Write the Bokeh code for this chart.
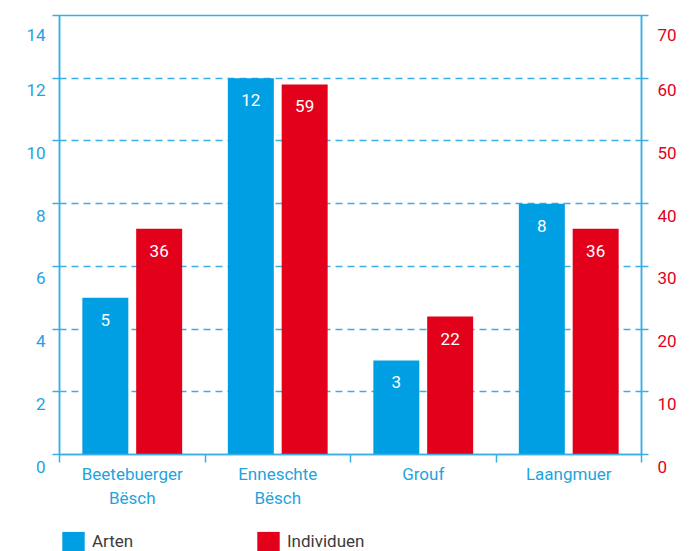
from bokeh.plotting import figure
from bokeh.layouts import column
from bokeh.models import Range1d, LinearAxis, FixedTicker, ColumnDataSource, Legend, LegendItem
from bokeh.transform import dodge
from bokeh.core.properties import value
from bokeh.embed import file_html
from bokeh.resources import INLINE

# ---- data ----
categories = ["Beetebuerger Bësch", "Enneschte Bësch", "Grouf", "Laangmuer"]
category_labels = ["Beetebuerger\nBësch", "Enneschte\nBësch", "Grouf", "Laangmuer"]
series_names = ["Arten", "Individuen"]
arten = [5, 12, 3, 8]
individuen = [36, 59, 22, 36]
left_ticks = [0, 2, 4, 6, 8, 10, 12, 14]
right_ticks = [0, 10, 20, 30, 40, 50, 60, 70]

# ---- style ----
FONT = "Roboto"
BLUE = "#009FE3"
RED = "#E2001A"
LINE = "#3AAEE5"
LBLUE = "#1FA3DE"
DARK = "#3C3C3B"
FS = "17px"

n = len(categories)
centers = [i + 0.5 for i in range(n)]
bounds = [float(i) for i in range(n + 1)]

src = ColumnDataSource(dict(
    x=centers,
    arten=arten,
    individuen=individuen,
    arten_txt=[str(v) for v in arten],
    ind_txt=[str(v) for v in individuen],
))

p = figure(width=694, height=520, x_range=Range1d(0, n), y_range=Range1d(left_ticks[0], left_ticks[-1]),
           output_backend="svg", toolbar_location=None,
           min_border_left=59, min_border_right=53, min_border_top=15, min_border_bottom=66)
p.extra_y_ranges = {"ind": Range1d(right_ticks[0], right_ticks[-1])}

p.outline_line_color = LINE
p.outline_line_width = 1.5
p.outline_line_alpha = 1
p.xgrid.visible = False
p.ygrid.ticker = FixedTicker(ticks=left_ticks[1:-1])
p.ygrid.grid_line_color = LINE
p.ygrid.grid_line_dash = "7 5"
p.ygrid.grid_line_width = 1.3

# bottom axis: labels at centres, ticks at group boundaries
xa = p.xaxis[0]
xa.ticker = FixedTicker(ticks=centers, minor_ticks=bounds)
xa.major_label_overrides = {c: l for c, l in zip(centers, category_labels)}
xa.major_tick_out = 0
xa.major_tick_in = 0
xa.minor_tick_out = 8
xa.minor_tick_in = 0
xa.minor_tick_line_color = LINE
xa.minor_tick_line_width = 1.5
xa.axis_line_color = LINE
xa.axis_line_width = 1.5
xa.major_label_standoff = 1
xa.major_label_text_color = LBLUE
xa.major_label_text_font = FONT
xa.major_label_text_font_size = FS

# left axis (labels sit just below their lines)
ya = p.yaxis[0]
ya.ticker = FixedTicker(ticks=left_ticks)
ya.major_label_overrides = {t: "\n" + str(t) for t in left_ticks}
ya.major_tick_out = 7
ya.major_tick_in = 0
ya.major_tick_line_color = LINE
ya.major_tick_line_width = 1.3
ya.minor_tick_line_color = None
ya.axis_line_color = LINE
ya.axis_line_width = 1.5
ya.major_label_standoff = 7
ya.major_label_text_color = LBLUE
ya.major_label_text_font = FONT
ya.major_label_text_font_size = FS

ra = LinearAxis(y_range_name="ind", ticker=FixedTicker(ticks=right_ticks))
ra.major_label_overrides = {t: "\n" + str(t) for t in right_ticks}
ra.major_tick_out = 7
ra.major_tick_in = 0
ra.major_tick_line_color = LINE
ra.major_tick_line_width = 1.3
ra.minor_tick_line_color = None
ra.axis_line_color = LINE
ra.axis_line_width = 1.5
ra.major_label_standoff = 9
ra.major_label_text_color = RED
ra.major_label_text_font = FONT
ra.major_label_text_font_size = FS
p.add_layout(ra, "right")

OFF = 0.185
W = 0.316
p.vbar(x=dodge("x", -OFF), top="arten", bottom=0, width=W, source=src,
       fill_color=BLUE, line_color=None)
p.vbar(x=dodge("x", OFF), top="individuen", bottom=0, width=W, source=src,
       fill_color=RED, line_color=None, y_range_name="ind")

p.text(x=dodge("x", -OFF), y="arten", text="arten_txt", source=src, y_offset=22,
       text_align="center", text_baseline="middle", text_color="white",
       text_font=value(FONT), text_font_size="17px")
p.text(x=dodge("x", OFF), y="individuen", text="ind_txt", source=src, y_offset=22,
       text_align="center", text_baseline="middle", text_color="white",
       text_font=value(FONT), text_font_size="17px", y_range_name="ind")

# ---- legend strip below ----
p2 = figure(width=694, height=31, x_range=Range1d(0, 1), y_range=Range1d(0, 1),
            x_axis_type=None, y_axis_type=None, output_backend="svg", toolbar_location=None,
            min_border_left=47, min_border_top=9, min_border_right=0, min_border_bottom=0)
p2.outline_line_color = None
p2.grid.visible = False
# legend swatch renderers (zero-height bars, nothing visible in the strip itself)
l1 = p2.vbar(x=[0.5], top=[0], bottom=[0], width=0.1, fill_color=BLUE, line_color=None)
l2 = p2.vbar(x=[0.5], top=[0], bottom=[0], width=0.1, fill_color=RED, line_color=None)
legend = Legend(items=[LegendItem(label=series_names[0], renderers=[l1]),
                       LegendItem(label=series_names[1], renderers=[l2])],
                orientation="horizontal", location="top_left",
                padding=0, margin=0, spacing=10, border_line_color=None,
                background_fill_alpha=0, glyph_width=28, glyph_height=24,
                label_height=24, label_standoff=5, label_width=152,
                label_text_font=FONT, label_text_font_size=FS,
                label_text_color=DARK, label_text_baseline="middle")
p2.add_layout(legend)

layout = column(p, p2, spacing=0)
open("out.html", "w").write(file_html(layout, INLINE))
